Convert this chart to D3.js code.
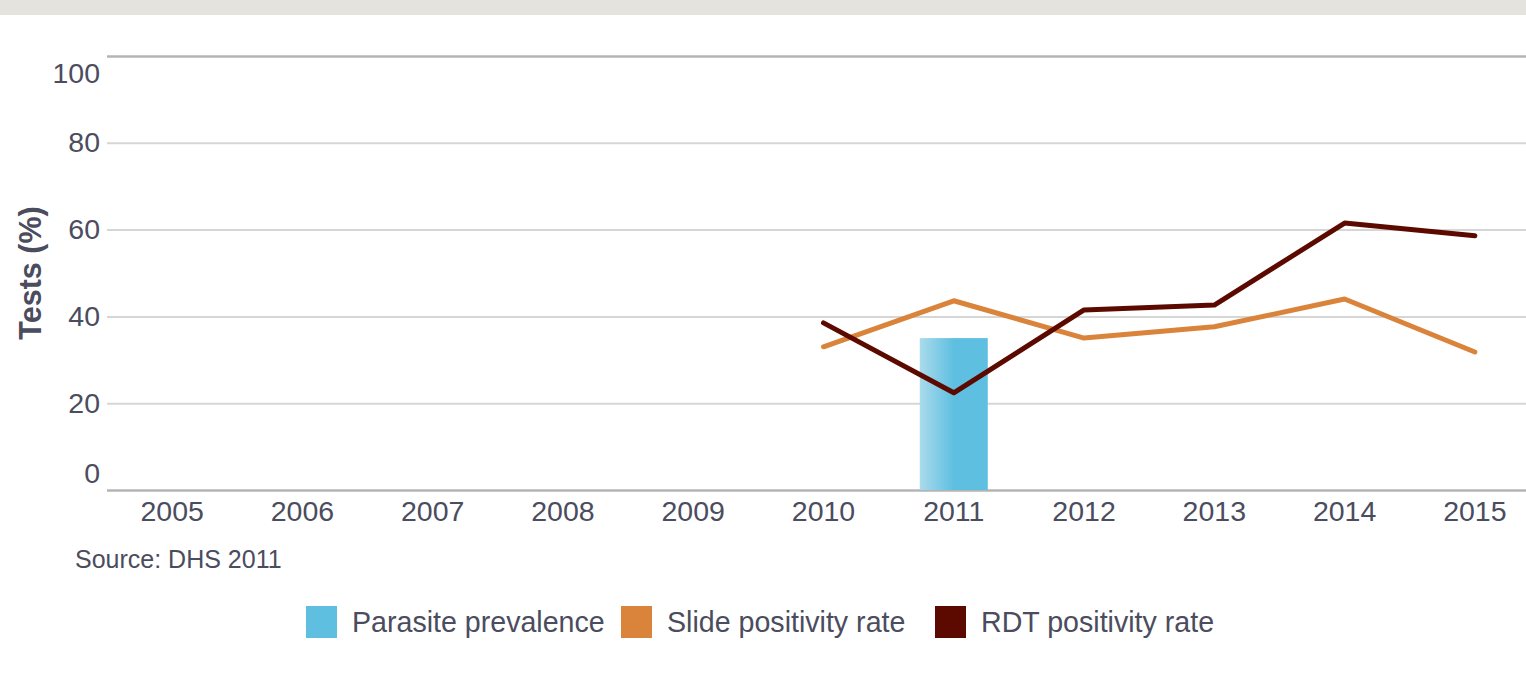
<!DOCTYPE html>
<html>
<head>
<meta charset="utf-8">
<script src="https://cdn.jsdelivr.net/npm/d3@7"></script>
<style>
  html, body { margin: 0; padding: 0; background: #fff; }
  svg { display: block; font-family: "Liberation Sans", Arial, sans-serif; }
</style>
</head>
<body>
<svg id="chart" width="1526" height="682"></svg>
<script>
const years = ["2005","2006","2007","2008","2009","2010","2011","2012","2013","2014","2015"];
const parasitePrevalence = [null, null, null, null, null, null, 35, null, null, null, null];
const slidePositivity = [null, null, null, null, null, 33, 43.6, 35, 37.6, 44, 31.8];
const rdtPositivity = [null, null, null, null, null, 38.5, 22.4, 41.5, 42.6, 61.5, 58.6];
const yTicks = [0, 20, 40, 60, 80, 100];
const seriesNames = ["Parasite prevalence", "Slide positivity rate", "RDT positivity rate"];
const seriesColors = ["#5fbfe0", "#d9843a", "#5c0a00"];
const yTitle = "Tests (%)";
const sourceText = "Source: DHS 2011";

const svg = d3.select("#chart");
const W = 1526, H = 682;
const textColor = "#4b4c5e";

// top band
svg.append("rect").attr("x", 0).attr("y", 0).attr("width", W).attr("height", 15).attr("fill", "#e5e3de");

const x = d3.scaleBand().domain(years).range([107, 1540]).padding(0);
const y = d3.scaleLinear().domain([0, 100]).range([490, 56]);

// gradient for bar
const defs = svg.append("defs");
const grad = defs.append("linearGradient").attr("id", "barGrad").attr("x1", "0%").attr("x2", "100%").attr("y1", "0%").attr("y2", "0%");
grad.append("stop").attr("offset", "0%").attr("stop-color", "#a9dbec");
grad.append("stop").attr("offset", "50%").attr("stop-color", "#5fbfe0");
grad.append("stop").attr("offset", "100%").attr("stop-color", "#5fbfe0");

// gridlines + y labels
const yAxis = d3.axisLeft(y).tickValues(yTicks).tickSize(-(W - 107)).tickPadding(7).tickFormat(d3.format("d"));
const gy = svg.append("g").attr("transform", "translate(107,0)").call(yAxis);
gy.select(".domain").remove();
gy.selectAll(".tick line")
  .attr("stroke", d => (d === 0 || d === 100) ? "#b4b4b4" : "#d6d6d6")
  .attr("stroke-width", d => (d === 0 || d === 100) ? 2.5 : 2);
gy.selectAll(".tick text")
  .attr("fill", textColor).style("font-size", "28.5px")
  .attr("dy", d => d === 0 ? "-0.28em" : d === 100 ? "0.92em" : "0.32em");

// x labels
const xAxis = d3.axisBottom(x).tickSize(0).tickPadding(10);
const gx = svg.append("g").attr("transform", "translate(0,490)").call(xAxis);
gx.select(".domain").remove();
gx.selectAll(".tick text").attr("fill", textColor).style("font-size", "28.5px").attr("dy", "0.75em");

// bars
const bw = 68;
svg.append("g").selectAll("rect")
  .data(years.map((yr, i) => ({yr, v: parasitePrevalence[i]})).filter(d => d.v != null))
  .join("rect")
  .attr("x", d => x(d.yr) + x.bandwidth() / 2 - bw / 2)
  .attr("width", bw)
  .attr("y", d => y(d.v))
  .attr("height", d => y(0) - y(d.v))
  .attr("fill", "url(#barGrad)");

// lines
const line = d3.line()
  .defined(d => d.v != null)
  .x(d => x(d.yr) + x.bandwidth() / 2)
  .y(d => y(d.v));

[[slidePositivity, seriesColors[1]], [rdtPositivity, seriesColors[2]]].forEach(([vals, col]) => {
  svg.append("path")
    .datum(years.map((yr, i) => ({yr, v: vals[i]})))
    .attr("d", line)
    .attr("fill", "none")
    .attr("stroke", col)
    .attr("stroke-width", 5)
    .attr("stroke-linejoin", "round")
    .attr("stroke-linecap", "round");
});

// y title
svg.append("text")
  .attr("transform", "translate(41,273) rotate(-90)")
  .attr("text-anchor", "middle")
  .attr("fill", textColor)
  .style("font-size", "30.5px")
  .style("font-weight", "bold")
  .text(yTitle);

// source
svg.append("text").attr("x", 75).attr("y", 568).attr("fill", textColor).style("font-size", "25px").text(sourceText);

// legend
const legendX = [306, 621, 935];
const lg = svg.append("g");
seriesNames.forEach((name, i) => {
  lg.append("rect").attr("x", legendX[i]).attr("y", 606).attr("width", 31).attr("height", 32).attr("fill", seriesColors[i]);
  lg.append("text").attr("x", legendX[i] + 46).attr("y", 632).attr("fill", textColor).style("font-size", "28.6px").text(name);
});
</script>
</body>
</html>
